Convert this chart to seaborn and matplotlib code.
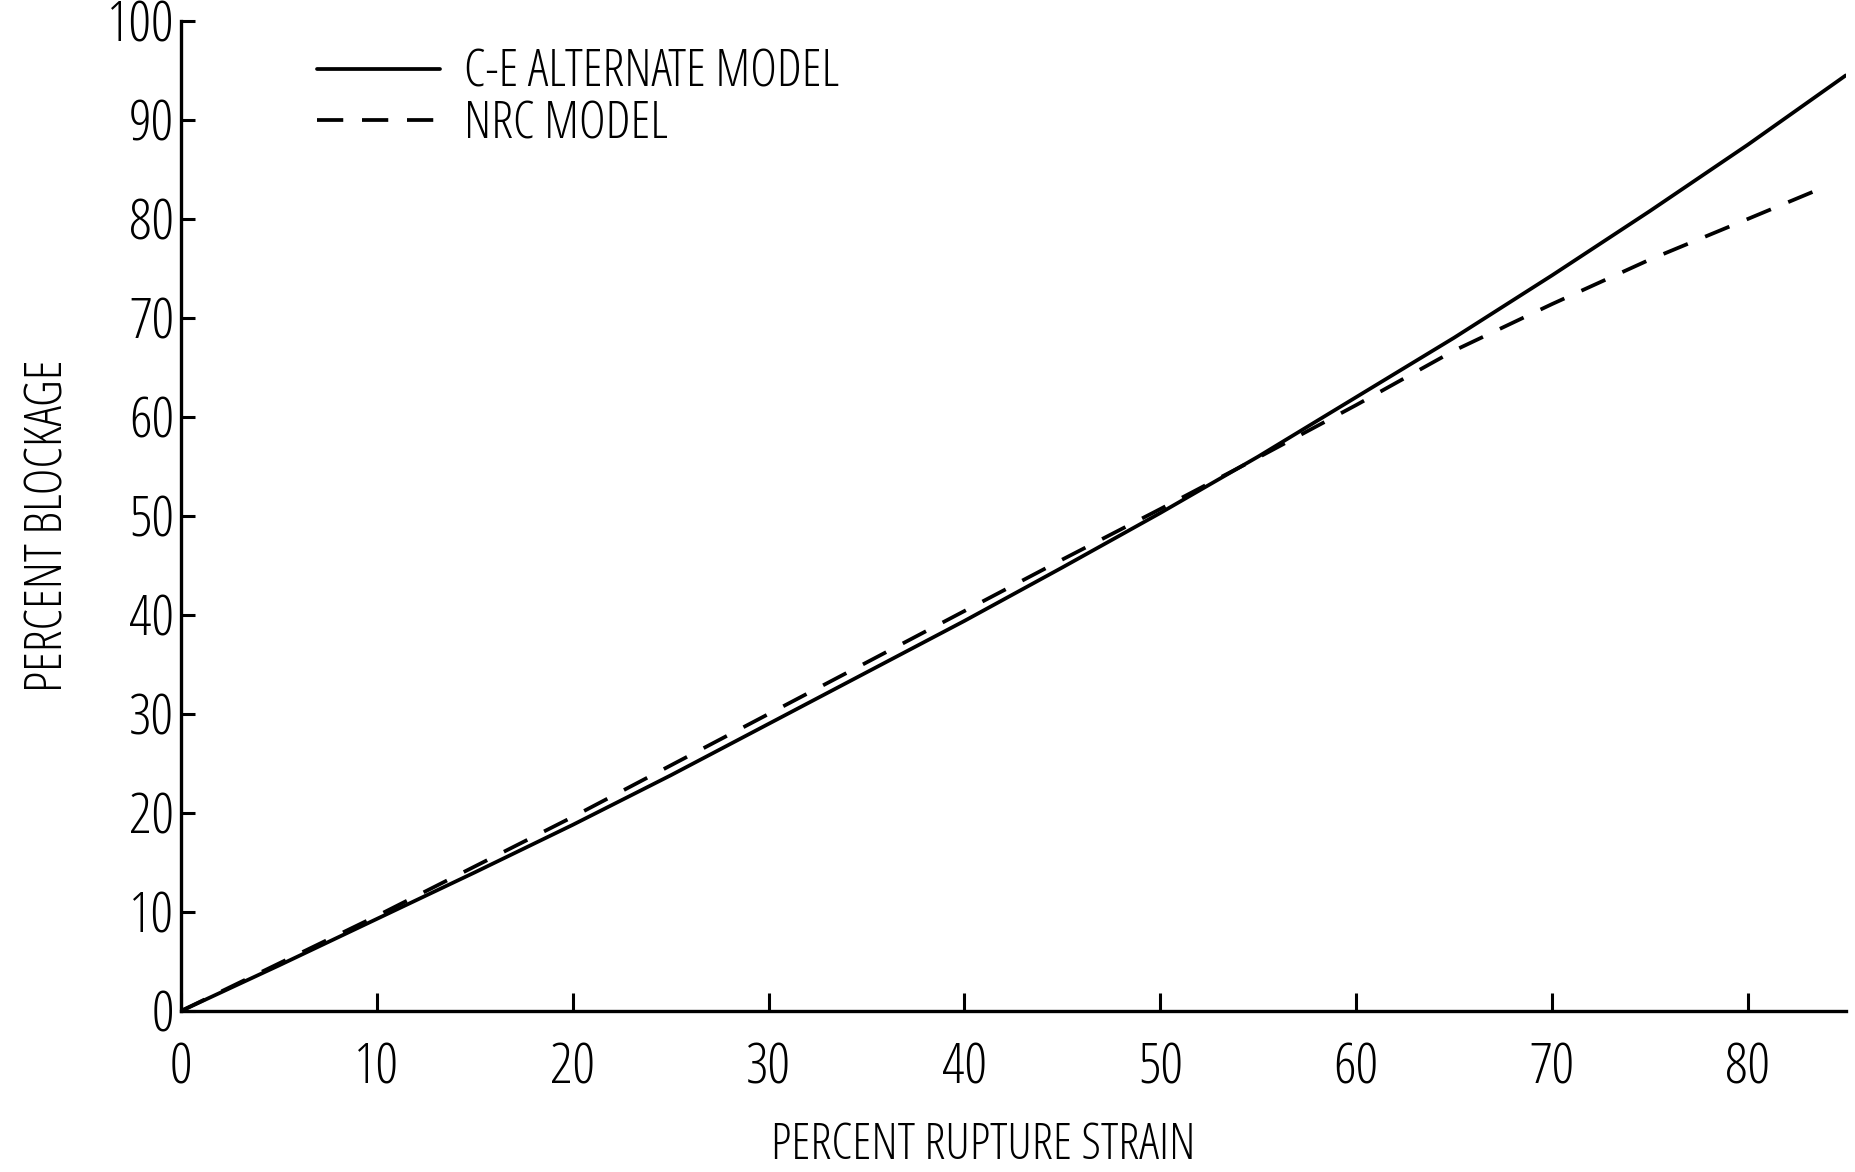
import matplotlib
matplotlib.use("Agg")
import matplotlib.pyplot as plt
from matplotlib import font_manager
import pandas as pd
import seaborn as sns

# values
strain_ce = [0, 5, 10, 15, 20, 25, 30, 35, 40, 45, 50, 55, 60, 65, 70, 75, 80, 85]
blockage_ce = [0, 4.6, 9.3, 14.0, 18.8, 23.8, 29.0, 34.2, 39.4, 44.8, 50.3, 56.0, 62.0, 68.0, 74.3, 80.8, 87.5, 94.5]
strain_nrc = [0, 5, 10, 15, 20, 25, 30, 35, 40, 45, 50, 55, 60, 65, 70, 75, 80, 84]
blockage_nrc = [0, 4.8, 9.6, 14.6, 19.6, 24.8, 30.0, 35.2, 40.4, 45.6, 50.7, 55.9, 61.2, 66.7, 71.4, 75.9, 80.0, 83.3]
x_ticks = [0, 10, 20, 30, 40, 50, 60, 70, 80]
y_ticks = [0, 10, 20, 30, 40, 50, 60, 70, 80, 90, 100]

sns.set_style("ticks")


def narrow_font():
    # look for a narrow face among the installed families
    fonts = font_manager.fontManager.ttflist
    for f in fonts:
        if f.name == "Liberation Sans Narrow" and f.style == "normal":
            return f.name, "normal"
    for name in ["Noto Sans", "Roboto", "Open Sans", "DejaVu Sans"]:
        for f in fonts:
            st = str(f.stretch)
            if f.name == name and f.style == "normal" and "condensed" in st and "semi" not in st:
                return f.name, st
    return "DejaVu Sans", "normal"


fam, stretch = narrow_font()
plt.rcParams["font.family"] = [fam, "DejaVu Sans"]
plt.rcParams["font.stretch"] = stretch
plt.rcParams["text.color"] = "black"
plt.rcParams["axes.labelcolor"] = "black"

fig = plt.figure(figsize=(18.55, 11.72), dpi=100)
ax = fig.add_axes([0.0976, 0.1374, 0.8974, 0.8447])

# scale the type so the legend text is as wide as in the scan
probe = fig.text(0, 0, "C-E ALTERNATE MODEL", fontsize=28)
w = probe.get_window_extent(fig.canvas.get_renderer()).width
probe.remove()
fs = min(40, 28 * 374 / w)
fs_px = fs * 100 / 72
probe = fig.text(0, 0, "C-E ALTERNATE MODEL", fontsize=fs)
h = probe.get_window_extent(fig.canvas.get_renderer()).height
probe.remove()

df_ce = pd.DataFrame({"strain": strain_ce, "blockage": blockage_ce})
df_nrc = pd.DataFrame({"strain": strain_nrc, "blockage": blockage_nrc})

sns.lineplot(data=df_ce, x="strain", y="blockage", color="black", linewidth=2.7,
             label="C-E ALTERNATE MODEL", ax=ax)
sns.lineplot(data=df_nrc, x="strain", y="blockage", color="black", linewidth=2.7,
             label="NRC MODEL", ax=ax)
ax.lines[1].set_dashes((7, 5))

ax.set_xlim(0, 85)
ax.set_ylim(0, 100)
ax.set_xticks(x_ticks)
ax.set_yticks(y_ticks)
ax.tick_params(axis="both", direction="in", width=2.2, colors="black", labelsize=fs * 1.1)
ax.tick_params(axis="x", length=13, pad=22)
ax.tick_params(axis="y", length=10, pad=5)
for s in ["top", "right"]:
    ax.spines[s].set_visible(False)
for s in ["left", "bottom"]:
    ax.spines[s].set_linewidth(2.4)
    ax.spines[s].set_color("black")

ax.set_xlabel("PERCENT RUPTURE STRAIN", fontsize=fs * 0.97)
ax.set_ylabel("PERCENT BLOCKAGE", fontsize=fs)
ax.xaxis.set_label_coords(0.482, -0.111)
ax.yaxis.set_label_coords(-0.064, 0.49)

leg = ax.legend(loc="upper left", bbox_to_anchor=(0.0817, (1011 - 73 + h / 2) / 990),
                frameon=False, fontsize=fs, handlelength=123 / fs_px,
                handletextpad=24 / fs_px, labelspacing=max(0, (48.5 - h) / fs_px),
                borderpad=0, borderaxespad=0)

fig.savefig("out.png", dpi=100, facecolor="white")
